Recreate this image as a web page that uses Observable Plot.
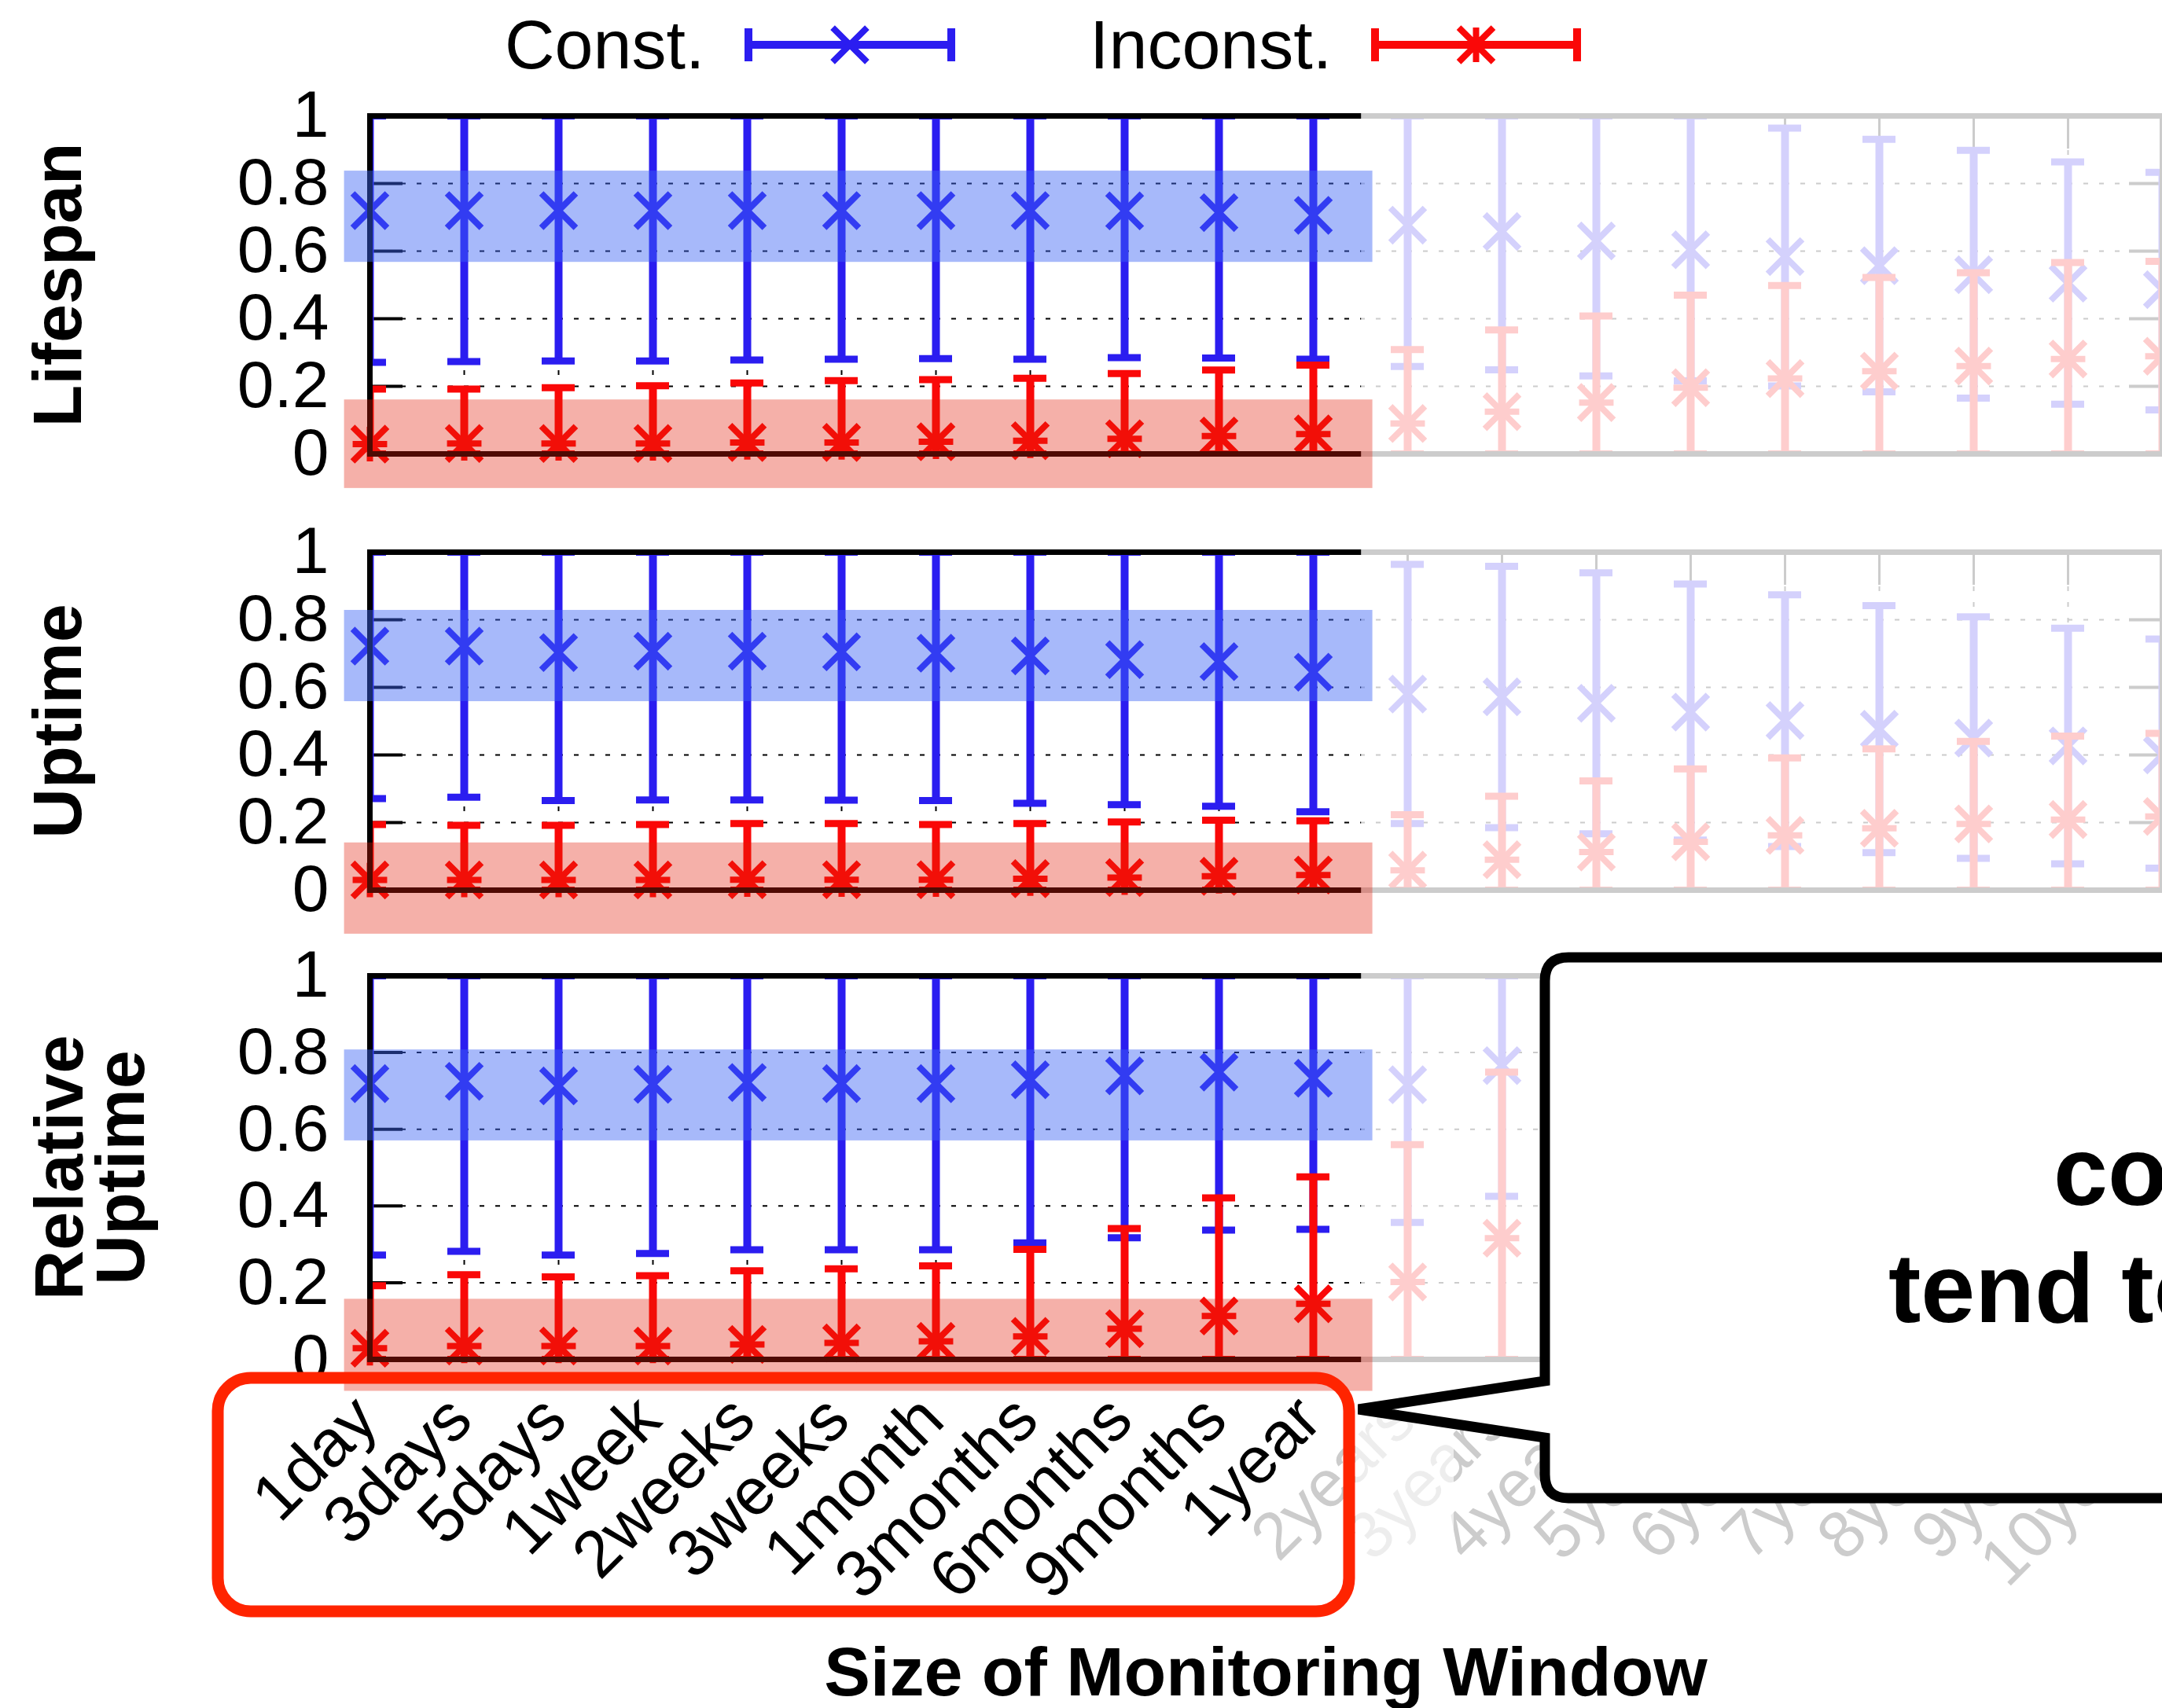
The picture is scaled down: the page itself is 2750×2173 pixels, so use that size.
<!DOCTYPE html>
<html>
<head>
<meta charset="utf-8">
<script src="https://cdn.jsdelivr.net/npm/d3@7"></script>
<script src="https://cdn.jsdelivr.net/npm/@observablehq/plot@0.6"></script>
<style>
  html, body { margin: 0; padding: 0; background: #fff; overflow: hidden; }
  #wrap { position: relative; width: 2750px; height: 2173px; overflow: hidden; background: #fff; }
  #wrap > svg { position: absolute; left: 0; top: 0; }
</style>
</head>
<body>
<div id="wrap"></div>
<script>
// ---------------- data ----------------
const xLabels = ["1day","3days","5days","1week","2weeks","3weeks","1month","3months","6months","9months","1year",
                 "2years","3years","4years","5years","6years","7years","8years","9years","10years"];
const yTickValues = [0, 0.2, 0.4, 0.6, 0.8, 1];
const yTickLabels = ["0", "0.2", "0.4", "0.6", "0.8", "1"];
const panelTitles = ["Lifespan", "Uptime", "Relative\nUptime"];
const seriesNames = ["Const.", "Inconst."];

// Lifespan
const lifespanConstMean = [0.72,0.72,0.72,0.72,0.72,0.72,0.72,0.72,0.719,0.714,0.706,0.677,0.658,0.630,0.604,0.584,0.557,0.530,0.505,0.486];
const lifespanConstLow  = [0.271,0.273,0.275,0.275,0.278,0.280,0.282,0.280,0.285,0.284,0.280,0.259,0.249,0.231,0.216,0.201,0.184,0.165,0.147,0.130];
const lifespanConstHigh = [1,1,1,1,1,1,1,1,1,1,1,1,1,1,1,0.964,0.931,0.898,0.864,0.833];
const lifespanInconstMean = [0.029,0.031,0.031,0.031,0.034,0.034,0.036,0.039,0.045,0.053,0.059,0.090,0.125,0.152,0.196,0.223,0.245,0.260,0.281,0.289];
const lifespanInconstLow  = [0,0,0,0,0,0,0,0,0,0,0,0,0,0,0,0,0,0,0,0];
const lifespanInconstHigh = [0.192,0.192,0.196,0.202,0.210,0.217,0.220,0.224,0.238,0.248,0.263,0.309,0.367,0.408,0.470,0.498,0.522,0.536,0.566,0.570];

// Uptime
const uptimeConstMean = [0.722,0.722,0.703,0.707,0.707,0.705,0.701,0.693,0.682,0.676,0.645,0.580,0.572,0.553,0.527,0.502,0.476,0.450,0.427,0.400];
const uptimeConstLow  = [0.271,0.275,0.265,0.267,0.267,0.266,0.265,0.257,0.253,0.248,0.232,0.197,0.185,0.167,0.148,0.129,0.111,0.094,0.078,0.065];
const uptimeConstHigh = [1,1,1,1,1,1,1,1,1,1,1,0.964,0.958,0.939,0.906,0.874,0.842,0.809,0.775,0.743];
const uptimeInconstMean = [0.030,0.030,0.030,0.030,0.031,0.031,0.031,0.034,0.037,0.041,0.045,0.059,0.090,0.113,0.143,0.162,0.183,0.196,0.209,0.218];
const uptimeInconstLow  = [0,0,0,0,0,0,0,0,0,0,0,0,0,0,0,0,0,0,0,0];
const uptimeInconstHigh = [0.194,0.192,0.192,0.194,0.197,0.197,0.194,0.197,0.202,0.207,0.205,0.223,0.278,0.323,0.359,0.391,0.418,0.440,0.456,0.464];

// Relative Uptime (values right of 3years are hidden behind the callout)
const relConstMean = [0.719,0.725,0.713,0.717,0.722,0.719,0.719,0.729,0.739,0.749,0.733,0.716,0.766,null,null,null,null,null,null,null];
const relConstLow  = [0.272,0.282,0.272,0.276,0.286,0.286,0.286,0.304,0.317,0.337,0.339,0.357,0.425,null,null,null,null,null,null,null];
const relConstHigh = [1,1,1,1,1,1,1,1,1,1,1,1,1,null,null,null,null,null,null,null];
const relInconstMean = [0.029,0.035,0.035,0.035,0.039,0.043,0.047,0.060,0.080,0.113,0.145,0.202,0.316,null,null,null,null,null,null,null];
const relInconstLow  = [0,0,0,0,0,0,0,0,0,0,0,0,0,null,null,null,null,null,null,null];
const relInconstHigh = [0.192,0.221,0.215,0.218,0.231,0.236,0.244,0.287,0.341,0.421,0.476,0.560,0.749,null,null,null,null,null,null,null];

// highlight bands (value ranges per panel)
const constBandTop    = [0.837, 0.828, 0.807];
const constBandBottom = [0.567, 0.558, 0.570];
const inconstBandTop    = [0.160, 0.140, 0.157];
const inconstBandBottom = [-0.102, -0.130, -0.083];
const bandFrom = -0.27, bandTo = 10.63;   // in category-index units
const fadeFrom = 10.51;                   // right of this index the chart is faded

// ---------------- layout / style ----------------
const FONT = '"Liberation Sans", Arial, Helvetica, sans-serif';
const W = 2750, H = 2173;
const plotLeft = 470;
const panelTop = [147, 702, 1241];
const panelBottom = [577, 1132, 1729];
const lastIndex = xLabels.length - 1;
const xStep = (W - plotLeft) / lastIndex;
const BLUE = "#2b1df0", RED = "#fa0808";

const panels = [
  {c: [lifespanConstMean, lifespanConstLow, lifespanConstHigh], n: [lifespanInconstMean, lifespanInconstLow, lifespanInconstHigh]},
  {c: [uptimeConstMean, uptimeConstLow, uptimeConstHigh], n: [uptimeInconstMean, uptimeInconstLow, uptimeInconstHigh]},
  {c: [relConstMean, relConstLow, relConstHigh], n: [relInconstMean, relInconstLow, relInconstHigh]}
];

function rowsOf(mean, lo, hi) {
  return mean.map((m, i) => ({i, mean: m, lo: lo[i], hi: hi[i]})).filter(d => d.mean != null);
}

// gnuplot-like "*" point: x plus +
const starPlus = {
  draw(ctx, size) {
    const r = Math.sqrt(size) * 0.6189;
    ctx.moveTo(-r, -r); ctx.lineTo(r, r);
    ctx.moveTo(-r, r); ctx.lineTo(r, -r);
    ctx.moveTo(-r, 0); ctx.lineTo(r, 0);
    ctx.moveTo(0, -r); ctx.lineTo(0, r);
  }
};

function errorMarks(rows, color, symbol) {
  const cap = 21 / xStep;
  return [
    Plot.ruleX(rows, {x: "i", y1: "lo", y2: "hi", stroke: color, strokeWidth: 10, clip: true}),
    Plot.ruleY(rows, {y: "lo", x1: d => d.i - cap, x2: d => d.i + cap, stroke: color, strokeWidth: 9, clip: true}),
    Plot.ruleY(rows, {y: "hi", x1: d => d.i - cap, x2: d => d.i + cap, stroke: color, strokeWidth: 9, clip: true}),
    Plot.dot(rows, {x: "i", y: "mean", symbol: symbol, r: 20, stroke: color, strokeWidth: 8, fill: "none"})
  ];
}

function makePanel(k) {
  const P = panels[k];
  const top = panelTop[k], bottom = panelBottom[k];
  const unit = bottom - top;
  const tx = 42 / xStep, ty = 42 / unit;
  const cRows = rowsOf(...P.c), nRows = rowsOf(...P.n);
  const idx = d3.range(xLabels.length);
  const inner = yTickValues.filter(v => v > 0 && v < 1);
  const dash = {stroke: "black", strokeWidth: 2, strokeDasharray: "6,14"};

  const marks = [
    Plot.ruleX(idx, {x: d => d, y1: 0, y2: 1, ...dash}),
    Plot.ruleY(inner, {y: d => d, ...dash}),
    Plot.ruleY(inner, {y: d => d, x1: 0, x2: tx, stroke: "black", strokeWidth: 4}),
    Plot.ruleY(inner, {y: d => d, x1: lastIndex - tx, x2: lastIndex, stroke: "black", strokeWidth: 4}),
    Plot.ruleX(idx, {x: d => d, y1: 1, y2: 1 - ty, stroke: "black", strokeWidth: 3}),
    Plot.ruleX(idx, {x: d => d, y1: 0, y2: ty, stroke: "black", strokeWidth: 3}),
    ...errorMarks(cRows, BLUE, "times"),
    ...errorMarks(nRows, RED, starPlus),
    Plot.frame({stroke: "black", strokeWidth: 7}),
    // fade of the right part
    Plot.rect([0], {x1: fadeFrom, x2: lastIndex + 1, y1: 1 + 8 / unit, y2: -50 / unit, fill: "white", fillOpacity: 0.8}),
    // highlight bands
    Plot.rect([0], {x1: bandFrom, x2: bandTo, y1: constBandBottom[k], y2: constBandTop[k], fill: "rgb(60,100,245)", fillOpacity: 0.45}),
    Plot.rect([0], {x1: bandFrom, x2: bandTo, y1: inconstBandBottom[k], y2: inconstBandTop[k], fill: "rgb(227,28,8)", fillOpacity: 0.35}),
    // y tick labels
    Plot.text(yTickValues, {y: d => d, text: (d, i) => yTickLabels[i], frameAnchor: "left", dx: -52,
      textAnchor: "end", fontSize: 84, fill: "black"}),
    // y title
    Plot.text([panelTitles[k]], {text: d => d, frameAnchor: "left", dx: k === 2 ? -288 : -368, rotate: -90,
      textAnchor: "middle", lineAnchor: "bottom", lineHeight: 0.886, fontSize: 88, fontWeight: "bold", fill: "black"})
  ];
  if (k === 2) {
    const xl = xLabels.map((t, i) => ({t, i}));
    const common = {x: "i", text: "t", frameAnchor: "bottom", dx: 14, dy: 81, rotate: -45,
      textAnchor: "end", lineAnchor: "bottom", fontSize: 84};
    marks.push(Plot.text(xl.filter(d => d.i <= 10), {...common, fill: "black"}));
    marks.push(Plot.text(xl.filter(d => d.i > 10), {...common, fill: "#cccccc"}));
  }
  return Plot.plot({
    width: W, height: H,
    marginLeft: plotLeft, marginRight: 0, marginTop: top, marginBottom: H - bottom,
    x: {domain: [0, lastIndex], axis: null},
    y: {domain: [0, 1], axis: null},
    style: {background: "transparent", fontFamily: FONT, maxWidth: "none"},
    marks
  });
}

const wrap = document.getElementById("wrap");
const plots = [0, 1, 2].map(k => { const p = makePanel(k); wrap.appendChild(p); return p; });

// ---------------- annotations overlay ----------------
const ov = d3.select(wrap).append("svg")
  .attr("width", W).attr("height", H).attr("viewBox", `0 0 ${W} ${H}`)
  .style("font-family", FONT);

// extra light patch next to the highlight box
ov.append("rect").attr("x", 1724).attr("y", 1790).attr("width", 125).attr("height", 200)
  .attr("fill", "white").attr("fill-opacity", 0.65);

// red rounded box around the highlighted window labels
ov.append("rect").attr("x", 277).attr("y", 1753).attr("width", 1439).attr("height", 297)
  .attr("rx", 42).attr("ry", 42).attr("fill", "none").attr("stroke", "#ff2400").attr("stroke-width", 15);

// callout box with pointer
{
  const bx = 1965, by0 = 1218, by1 = 1906, rr = 30, xr = 2830;
  const path = `M${bx},1757 L${bx},${by0 + rr} Q${bx},${by0} ${bx + rr},${by0} L${xr},${by0} L${xr},${by1}
    L${bx + rr},${by1} Q${bx},${by1} ${bx},${by1 - rr} L${bx},1829 L1728,1793 Z`;
  ov.append("path").attr("d", path).attr("fill", "white").attr("stroke", "black")
    .attr("stroke-width", 13).attr("stroke-linejoin", "miter");
  ov.append("text").attr("x", 2612).attr("y", 1533).attr("font-size", 124).attr("font-weight", "bold")
    .text("consistent nodes");
  ov.append("text").attr("x", 2402).attr("y", 1682).attr("font-size", 124).attr("font-weight", "bold")
    .text("tend to be stable");
}

// legend
function legendItem(label, textX, x0, x1, color, kind) {
  ov.append("text").attr("x", textX).attr("y", 87).attr("font-size", 88).attr("fill", "black").text(label);
  const cy = 57;
  ov.append("line").attr("x1", x0).attr("x2", x1).attr("y1", cy).attr("y2", cy).attr("stroke", color).attr("stroke-width", 10);
  [x0, x1].forEach(x => ov.append("line").attr("x1", x).attr("x2", x).attr("y1", cy - 21).attr("y2", cy + 21)
    .attr("stroke", color).attr("stroke-width", 10));
  const sym = kind === "times" ? d3.symbolTimes : starPlus;
  ov.append("path").attr("d", d3.symbol(sym, 20 * 20 * Math.PI)())
    .attr("transform", `translate(${(x0 + x1) / 2},${cy})`)
    .attr("fill", "none").attr("stroke", color).attr("stroke-width", 8);
}
legendItem(seriesNames[0], 642, 952, 1210, BLUE, "times");
legendItem(seriesNames[1], 1386, 1749, 2006, RED, "star");

// x axis title
ov.append("text").attr("x", (plotLeft + W) / 2).attr("y", 2157).attr("text-anchor", "middle")
  .attr("font-size", 88).attr("font-weight", "bold").attr("fill", "black").text("Size of Monitoring Window");
</script>
</body>
</html>
